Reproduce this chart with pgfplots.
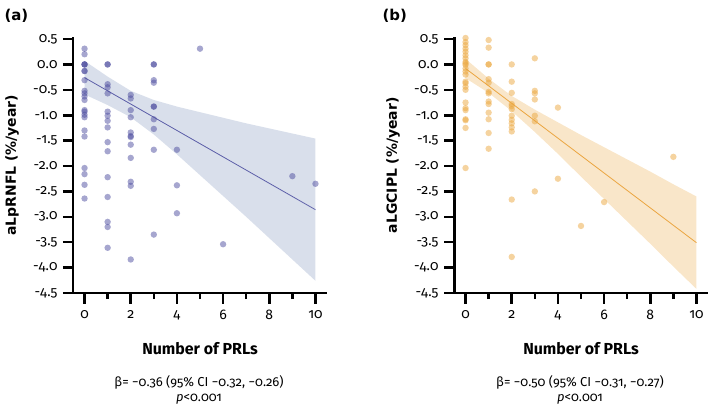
\documentclass[border=0pt]{standalone}
\usepackage{fontspec}
\setmainfont{Fira Sans}[Numbers=OldStyle]
\newfontfamily\labelfont{DejaVu Sans}
\usepackage{pgfplots}
\pgfplotsset{compat=1.18}

\definecolor{ptA}{RGB}{77,77,159}
\definecolor{lineA}{RGB}{92,94,168}
\definecolor{bandA}{RGB}{217,223,235}
\definecolor{ptB}{RGB}{235,167,63}
\definecolor{lineB}{RGB}{235,165,64}
\definecolor{bandB}{RGB}{249,230,201}

\pgfplotsset{
  prlaxis/.style={
    scale only axis, width=254bp, height=255.5bp,
    xmin=-0.5, xmax=10.5, ymin=-4.5, ymax=0.53,
    axis lines=left,
    xtick={0,2,...,10}, minor xtick={1,3,...,9},
    ytick={-4.5,-4,...,0.5},
    major tick length=10bp, minor tick length=6bp,
    /pgf/number format/assume math mode=true,
    yticklabel style={/pgf/number format/fixed, /pgf/number format/fixed zerofill,
      /pgf/number format/precision=1, xshift=-2bp},
    xticklabel style={yshift=-4bp},
    tick label style={font=\fontsize{14}{16}\selectfont},
    xlabel style={font=\fontsize{16}{18}\selectfont\bfseries,
      at={(axis description cs:0.5,-0.219)}, anchor=center},
    ylabel style={font=\labelfont\fontsize{14}{16}\selectfont\bfseries,
      at={(axis description cs:-0.24,0.5)}, anchor=center},
    xlabel={Number of PRLs},
    clip=false,
  },
  frame/.style={
    axis line style={-, black, line width=3pt},
    tick style={black, line width=2.6pt},
    xtick align=outside, ytick align=outside,
  },
  dots/.style={only marks, color=#1, mark=*, mark size=3.2bp,
    mark options={fill=#1, fill opacity=0.5, draw opacity=0}},
}

\begin{document}
\begin{tikzpicture}
\useasboundingbox (0,0) rectangle (709bp,407bp);

% (a) aLpRNFL
\begin{axis}[prlaxis, at={(73bp,114bp)}, anchor=south west,
  ylabel={aLpRNFL (\%/year)}, frame]
\addplot[draw=none, fill=bandA] coordinates {
  (0,0.07) (1,-0.24) (2,-0.52) (3,-0.70) (4,-0.83) (5,-0.94) (6,-1.05) (7,-1.16)
  (8,-1.26) (9,-1.36) (10,-1.46)
  (10,-4.26) (9,-3.84) (8,-3.42) (7,-3.00) (6,-2.59) (5,-2.18) (4,-1.77) (3,-1.38)
  (2,-1.04) (1,-0.80) (0,-0.59)};
\addplot[dots=ptA] coordinates {
  (0,0.31) (0,0.20) (0,0) (0,0) (0,0) (0,-0.13) (0,-0.13) (0,-0.31) (0,-0.52)
  (0,-0.57) (0,-0.63) (0,-0.70) (0,-0.90) (0,-0.93) (0,-0.99) (0,-1.04) (0,-1.30)
  (0,-1.42) (0,-2.04) (0,-2.16) (0,-2.37) (0,-2.64)
  (1,0) (1,0) (1,-0.39) (1,-0.45) (1,-0.57) (1,-0.93) (1,-1.01) (1,-1.11) (1,-1.24)
  (1,-1.53) (1,-1.71) (1,-2.22) (1,-2.61) (1,-3.10) (1,-3.20) (1,-3.61)
  (2,-0.60) (2,-0.67) (2,-0.90) (2,-1.04) (2,-1.34) (2,-1.41) (2,-1.43) (2,-1.58)
  (2,-1.84) (2,-2.31) (2,-2.39) (2,-3.84)
  (3,0) (3,0) (3,-0.31) (3,-0.36) (3,-0.83) (3,-0.83) (3,-1.08) (3,-1.27) (3,-1.68)
  (3,-3.35)
  (4,-1.68) (4,-2.38) (4,-2.93)
  (5,0.31) (6,-3.54) (9,-2.20) (10,-2.35)};
\addplot[lineA, line width=0.8pt] coordinates {(0,-0.26) (10,-2.86)};
\end{axis}

% (b) aLGCIPL
\begin{axis}[prlaxis, at={(454bp,114bp)}, anchor=south west,
  ylabel={aLGCIPL (\%/year)}, frame]
\addplot[draw=none, fill=bandB] coordinates {
  (0,0.11) (1,-0.28) (2,-0.62) (3,-0.89) (4,-1.14) (5,-1.39) (6,-1.63) (7,-1.87)
  (8,-2.11) (9,-2.36) (10,-2.60)
  (10,-4.42) (9,-3.98) (8,-3.53) (7,-3.09) (6,-2.65) (5,-2.21) (4,-1.76) (3,-1.33)
  (2,-0.92) (1,-0.56) (0,-0.27)};
\addplot[dots=ptB] coordinates {
  (0,0.52) (0,0.44) (0,0.38) (0,0.31) (0,0.25) (0,0.18) (0,0.12) (0,0.05) (0,0.02)
  (0,-0.01) (0,-0.08) (0,-0.14) (0,-0.20) (0,-0.34) (0,-0.37) (0,-0.44) (0,-0.50)
  (0,-0.75) (0,-0.86) (0,-0.90) (0,-1.08) (0,-1.10) (0,-1.25) (0,-2.04)
  (1,0.48) (1,0.33) (1,0) (1,0) (1,-0.29) (1,-0.36) (1,-0.54) (1,-0.57) (1,-0.73)
  (1,-0.78) (1,-0.95) (1,-1.08) (1,-1.35) (1,-1.66)
  (2,0) (2,-0.34) (2,-0.56) (2,-0.78) (2,-0.82) (2,-0.88) (2,-1.01) (2,-1.09)
  (2,-1.16) (2,-1.24) (2,-1.32) (2,-2.66) (2,-3.79)
  (3,0.12) (3,-0.52) (3,-0.57) (3,-0.69) (3,-1.01) (3,-1.12) (3,-2.50)
  (4,-0.85) (4,-2.25)
  (5,-3.18) (6,-2.71) (9,-1.82)};
\addplot[lineB, line width=0.8pt] coordinates {(0,-0.08) (10,-3.51)};
\end{axis}

% axis frame and ticks drawn again on top (x: 23.091bp per unit, y: 25.397bp per 0.5)
\foreach \ox/\oxr in {73/327,454/708} {
  \draw[black, line width=3pt] (\ox bp,369.5bp) -- (\ox bp,114bp) -- (\oxr bp,114bp);
  \foreach \k in {0,...,10} {
    \pgfmathsetmacro\tx{\ox+11.545+23.091*\k}
    \ifodd\k \def\tl{6}\else\def\tl{11}\fi
    \draw[black, line width=2.6pt] (\tx bp,114bp) -- (\tx bp,114bp-\tl bp);
  }
  \foreach \j in {0,...,10} {
    \pgfmathsetmacro\ty{114+25.397*\j}
    \draw[black, line width=2.6pt] (\ox bp,\ty bp) -- (\ox bp-8bp,\ty bp);
  }
}

\node[font=\labelfont\bfseries\fontsize{15}{17}\selectfont, anchor=west] at (1bp,391bp) {(a)};
\node[font=\labelfont\bfseries\fontsize{15}{17}\selectfont, anchor=west] at (379bp,391bp) {(b)};

\node[font=\fontsize{13}{15}\selectfont] at (199bp,25bp) {β= −0.36 (95\% CI −0.32, −0.26)};
\node[font=\fontsize{13}{15}\selectfont] at (199bp,8bp) {\textit{p}<0.001};
\node[font=\fontsize{13}{15}\selectfont] at (580bp,25bp) {β= −0.50 (95\% CI −0.31, −0.27)};
\node[font=\fontsize{13}{15}\selectfont] at (580bp,8bp) {\textit{p}<0.001};
\end{tikzpicture}
\end{document}
